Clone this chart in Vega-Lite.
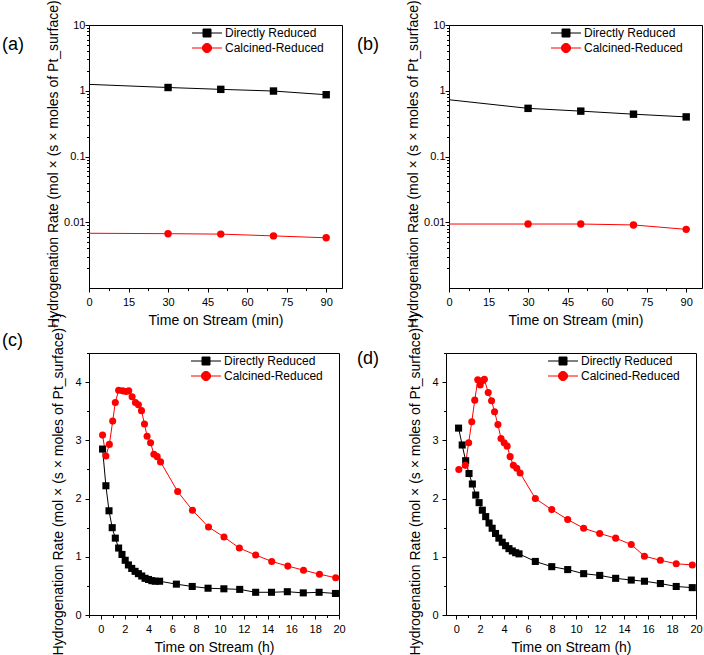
{
  "$schema": "https://vega.github.io/schema/vega-lite/v6.json",
  "padding": {"left": 1, "top": -17, "right": 0, "bottom": 0},
  "background": "white",
  "config": {
    "view": {"stroke": "black", "strokeWidth": 1},
    "font": "Liberation Sans",
    "axis": {
      "grid": false,
      "domainColor": "black",
      "domainWidth": 1,
      "tickColor": "black",
      "tickWidth": 1,
      "labelColor": "black",
      "titleColor": "black",
      "labelFont": "Liberation Sans",
      "titleFont": "Liberation Sans",
      "labelFontSize": 11,
      "titleFontSize": 14,
      "titleFontWeight": "normal",
      "labelOverlap": false,
      "labelFlush": false
    },
    "axisX": {"labelPadding": 4, "titlePadding": 6},
    "title": {"font": "Liberation Sans", "fontSize": 18, "fontWeight": "normal", "color": "black", "anchor": "start", "frame": "group", "offset": 0, "baseline": "middle"}
  },
  "datasets": {
    "a": [
      {"series": "Directly Reduced", "t": 0, "rate": 1.25},
      {"series": "Directly Reduced", "t": 30, "rate": 1.12},
      {"series": "Directly Reduced", "t": 50, "rate": 1.05},
      {"series": "Directly Reduced", "t": 70, "rate": 0.99},
      {"series": "Directly Reduced", "t": 90, "rate": 0.87},
      {"series": "Calcined-Reduced", "t": 0, "rate": 0.0068},
      {"series": "Calcined-Reduced", "t": 30, "rate": 0.0067},
      {"series": "Calcined-Reduced", "t": 50, "rate": 0.0066},
      {"series": "Calcined-Reduced", "t": 70, "rate": 0.0062},
      {"series": "Calcined-Reduced", "t": 90, "rate": 0.0058}
    ],
    "b": [
      {"series": "Directly Reduced", "t": 0, "rate": 0.73},
      {"series": "Directly Reduced", "t": 30, "rate": 0.54},
      {"series": "Directly Reduced", "t": 50, "rate": 0.49},
      {"series": "Directly Reduced", "t": 70, "rate": 0.44},
      {"series": "Directly Reduced", "t": 90, "rate": 0.40},
      {"series": "Calcined-Reduced", "t": 0, "rate": 0.0094},
      {"series": "Calcined-Reduced", "t": 30, "rate": 0.0094},
      {"series": "Calcined-Reduced", "t": 50, "rate": 0.0094},
      {"series": "Calcined-Reduced", "t": 70, "rate": 0.0091},
      {"series": "Calcined-Reduced", "t": 90, "rate": 0.0078}
    ],
    "c": [
      {"series": "Directly Reduced", "t": 0.14, "rate": 2.85},
      {"series": "Directly Reduced", "t": 0.42, "rate": 2.22},
      {"series": "Directly Reduced", "t": 0.68, "rate": 1.79},
      {"series": "Directly Reduced", "t": 0.95, "rate": 1.5},
      {"series": "Directly Reduced", "t": 1.21, "rate": 1.32},
      {"series": "Directly Reduced", "t": 1.49, "rate": 1.15},
      {"series": "Directly Reduced", "t": 1.77, "rate": 1.04},
      {"series": "Directly Reduced", "t": 2.04, "rate": 0.94},
      {"series": "Directly Reduced", "t": 2.31, "rate": 0.86},
      {"series": "Directly Reduced", "t": 2.59, "rate": 0.8},
      {"series": "Directly Reduced", "t": 2.87, "rate": 0.75},
      {"series": "Directly Reduced", "t": 3.15, "rate": 0.71},
      {"series": "Directly Reduced", "t": 3.43, "rate": 0.67},
      {"series": "Directly Reduced", "t": 3.71, "rate": 0.63},
      {"series": "Directly Reduced", "t": 4.0, "rate": 0.61},
      {"series": "Directly Reduced", "t": 4.28, "rate": 0.59},
      {"series": "Directly Reduced", "t": 4.56, "rate": 0.58},
      {"series": "Directly Reduced", "t": 4.93, "rate": 0.58},
      {"series": "Directly Reduced", "t": 6.34, "rate": 0.53},
      {"series": "Directly Reduced", "t": 7.67, "rate": 0.49},
      {"series": "Directly Reduced", "t": 9.0, "rate": 0.46},
      {"series": "Directly Reduced", "t": 10.33, "rate": 0.45},
      {"series": "Directly Reduced", "t": 11.66, "rate": 0.44},
      {"series": "Directly Reduced", "t": 13.0, "rate": 0.39},
      {"series": "Directly Reduced", "t": 14.33, "rate": 0.39},
      {"series": "Directly Reduced", "t": 15.66, "rate": 0.4},
      {"series": "Directly Reduced", "t": 17.0, "rate": 0.38},
      {"series": "Directly Reduced", "t": 18.33, "rate": 0.39},
      {"series": "Directly Reduced", "t": 19.7, "rate": 0.37},
      {"series": "Calcined-Reduced", "t": 0.14, "rate": 3.09},
      {"series": "Calcined-Reduced", "t": 0.42, "rate": 2.73},
      {"series": "Calcined-Reduced", "t": 0.71, "rate": 2.93},
      {"series": "Calcined-Reduced", "t": 0.99, "rate": 3.33},
      {"series": "Calcined-Reduced", "t": 1.21, "rate": 3.65},
      {"series": "Calcined-Reduced", "t": 1.49, "rate": 3.86},
      {"series": "Calcined-Reduced", "t": 1.83, "rate": 3.85},
      {"series": "Calcined-Reduced", "t": 2.11, "rate": 3.84},
      {"series": "Calcined-Reduced", "t": 2.34, "rate": 3.85},
      {"series": "Calcined-Reduced", "t": 2.62, "rate": 3.75},
      {"series": "Calcined-Reduced", "t": 2.9, "rate": 3.65},
      {"series": "Calcined-Reduced", "t": 3.15, "rate": 3.61},
      {"series": "Calcined-Reduced", "t": 3.41, "rate": 3.51},
      {"series": "Calcined-Reduced", "t": 3.66, "rate": 3.28},
      {"series": "Calcined-Reduced", "t": 3.88, "rate": 3.07},
      {"series": "Calcined-Reduced", "t": 4.17, "rate": 2.96},
      {"series": "Calcined-Reduced", "t": 4.45, "rate": 2.76},
      {"series": "Calcined-Reduced", "t": 4.73, "rate": 2.72},
      {"series": "Calcined-Reduced", "t": 5.01, "rate": 2.63},
      {"series": "Calcined-Reduced", "t": 6.45, "rate": 2.12},
      {"series": "Calcined-Reduced", "t": 7.69, "rate": 1.8},
      {"series": "Calcined-Reduced", "t": 9.04, "rate": 1.51},
      {"series": "Calcined-Reduced", "t": 10.34, "rate": 1.34},
      {"series": "Calcined-Reduced", "t": 11.63, "rate": 1.15},
      {"series": "Calcined-Reduced", "t": 13.0, "rate": 1.03},
      {"series": "Calcined-Reduced", "t": 14.35, "rate": 0.92},
      {"series": "Calcined-Reduced", "t": 15.7, "rate": 0.84},
      {"series": "Calcined-Reduced", "t": 17.02, "rate": 0.77},
      {"series": "Calcined-Reduced", "t": 18.36, "rate": 0.7},
      {"series": "Calcined-Reduced", "t": 19.72, "rate": 0.64}
    ],
    "d": [
      {"series": "Directly Reduced", "t": 0.2, "rate": 3.21},
      {"series": "Directly Reduced", "t": 0.5, "rate": 2.92},
      {"series": "Directly Reduced", "t": 0.79, "rate": 2.65},
      {"series": "Directly Reduced", "t": 1.07, "rate": 2.43},
      {"series": "Directly Reduced", "t": 1.35, "rate": 2.25},
      {"series": "Directly Reduced", "t": 1.63, "rate": 2.06},
      {"series": "Directly Reduced", "t": 1.91, "rate": 1.93},
      {"series": "Directly Reduced", "t": 2.18, "rate": 1.8},
      {"series": "Directly Reduced", "t": 2.46, "rate": 1.69},
      {"series": "Directly Reduced", "t": 2.74, "rate": 1.58},
      {"series": "Directly Reduced", "t": 3.0, "rate": 1.49},
      {"series": "Directly Reduced", "t": 3.28, "rate": 1.4},
      {"series": "Directly Reduced", "t": 3.56, "rate": 1.32},
      {"series": "Directly Reduced", "t": 3.84, "rate": 1.25},
      {"series": "Directly Reduced", "t": 4.12, "rate": 1.19},
      {"series": "Directly Reduced", "t": 4.4, "rate": 1.14},
      {"series": "Directly Reduced", "t": 4.68, "rate": 1.1},
      {"series": "Directly Reduced", "t": 4.96, "rate": 1.07},
      {"series": "Directly Reduced", "t": 5.24, "rate": 1.05},
      {"series": "Directly Reduced", "t": 6.6, "rate": 0.92},
      {"series": "Directly Reduced", "t": 7.97, "rate": 0.83},
      {"series": "Directly Reduced", "t": 9.3, "rate": 0.78},
      {"series": "Directly Reduced", "t": 10.63, "rate": 0.71},
      {"series": "Directly Reduced", "t": 11.97, "rate": 0.68},
      {"series": "Directly Reduced", "t": 13.3, "rate": 0.63},
      {"series": "Directly Reduced", "t": 14.6, "rate": 0.6},
      {"series": "Directly Reduced", "t": 15.7, "rate": 0.58},
      {"series": "Directly Reduced", "t": 17.03, "rate": 0.54},
      {"series": "Directly Reduced", "t": 18.35, "rate": 0.49},
      {"series": "Directly Reduced", "t": 19.69, "rate": 0.47},
      {"series": "Calcined-Reduced", "t": 0.22, "rate": 2.5},
      {"series": "Calcined-Reduced", "t": 0.76, "rate": 2.57},
      {"series": "Calcined-Reduced", "t": 1.04, "rate": 2.96},
      {"series": "Calcined-Reduced", "t": 1.3, "rate": 3.32},
      {"series": "Calcined-Reduced", "t": 1.55, "rate": 3.69},
      {"series": "Calcined-Reduced", "t": 1.8, "rate": 4.04},
      {"series": "Calcined-Reduced", "t": 2.0, "rate": 3.95},
      {"series": "Calcined-Reduced", "t": 2.15, "rate": 4.02},
      {"series": "Calcined-Reduced", "t": 2.35, "rate": 4.05},
      {"series": "Calcined-Reduced", "t": 2.67, "rate": 3.82},
      {"series": "Calcined-Reduced", "t": 2.95, "rate": 3.68},
      {"series": "Calcined-Reduced", "t": 3.2, "rate": 3.49},
      {"series": "Calcined-Reduced", "t": 3.48, "rate": 3.27},
      {"series": "Calcined-Reduced", "t": 3.74, "rate": 3.03},
      {"series": "Calcined-Reduced", "t": 4.0, "rate": 2.96},
      {"series": "Calcined-Reduced", "t": 4.25, "rate": 2.9},
      {"series": "Calcined-Reduced", "t": 4.5, "rate": 2.72},
      {"series": "Calcined-Reduced", "t": 4.77, "rate": 2.57},
      {"series": "Calcined-Reduced", "t": 5.05, "rate": 2.52},
      {"series": "Calcined-Reduced", "t": 5.33, "rate": 2.44},
      {"series": "Calcined-Reduced", "t": 6.6, "rate": 2.0},
      {"series": "Calcined-Reduced", "t": 7.97, "rate": 1.81},
      {"series": "Calcined-Reduced", "t": 9.3, "rate": 1.64},
      {"series": "Calcined-Reduced", "t": 10.63, "rate": 1.49},
      {"series": "Calcined-Reduced", "t": 11.97, "rate": 1.4},
      {"series": "Calcined-Reduced", "t": 13.3, "rate": 1.32},
      {"series": "Calcined-Reduced", "t": 14.6, "rate": 1.21},
      {"series": "Calcined-Reduced", "t": 15.7, "rate": 1.01},
      {"series": "Calcined-Reduced", "t": 17.03, "rate": 0.94},
      {"series": "Calcined-Reduced", "t": 18.35, "rate": 0.88},
      {"series": "Calcined-Reduced", "t": 19.69, "rate": 0.86}
    ]
  },
  "resolve": {"scale": {"color": "independent", "shape": "independent"}},
  "columns": 2,
  "align": "none",
  "spacing": {"row": -20, "column": 10},
  "concat": [
    {
      "width": 253, "height": 263,
      "data": {"name": "a"},
      "title": {"text": "(a)", "dx": -87, "dy": 74},
      "encoding": {
        "x": {"field": "t", "type": "quantitative", "scale": {"domain": [0, 96], "nice": false, "zero": false},
          "axis": {"title": "Time on Stream (min)", "values": [0, 7.5, 15, 22.5, 30, 37.5, 45, 52.5, 60, 67.5, 75, 82.5, 90], "labelExpr": "datum.value % 15 === 0 ? format(datum.value, '~g') : ''", "tickSize": {"condition": {"test": "datum.value % 15 !== 0", "value": 2.5}, "value": 4}}},
        "y": {"field": "rate", "type": "quantitative", "scale": {"type": "log", "domain": [0.001, 10], "nice": false},
          "axis": {"title": "Hydrogenation Rate  (mol × (s × moles of Pt_surface)⁻¹)", "titlePadding": 3, "labelPadding": 0, "values": [0.002, 0.003, 0.004, 0.005, 0.006, 0.007, 0.008, 0.009, 0.01, 0.02, 0.03, 0.04, 0.05, 0.06, 0.07, 0.08, 0.09, 0.1, 0.2, 0.3, 0.4, 0.5, 0.6, 0.7, 0.8, 0.9, 1, 2, 3, 4, 5, 6, 7, 8, 9, 10], "labelExpr": "indexof([0.01, 0.1, 1, 10], datum.value) >= 0 ? format(datum.value, '~g') : ''", "tickSize": {"condition": {"test": "indexof([0.01, 0.1, 1, 10], datum.value) < 0", "value": 2.5}, "value": 4}}},
        "color": {"field": "series", "type": "nominal", "scale": {"domain": ["Directly Reduced", "Calcined-Reduced"], "range": ["#000000", "#ff0000"]},
          "legend": {"orient": "none", "legendX": 112, "legendY": 2, "title": null, "padding": 0, "labelFont": "Liberation Sans", "labelFontSize": 12, "labelColor": "black", "labelOffset": 12, "rowPadding": 2, "symbolSize": 64, "symbolStrokeWidth": 1,
            "encode": {"symbols": {"update": {
              "shape": {"signal": "datum.value === 'Directly Reduced' ? 'M-3.75,0H3.75M-1,-1H1V1H-1Z' : 'M-3.75,0H3.75M1.15,0A1.15,1.15,0,1,1,-1.15,0A1.15,1.15,0,1,1,1.15,0Z'"},
              "stroke": {"signal": "datum.value === 'Directly Reduced' ? '#000000' : '#ff0000'"},
              "fill": {"signal": "datum.value === 'Directly Reduced' ? '#000000' : '#ff0000'"},
              "strokeWidth": {"value": 1}}}}}}
      },
      "layer": [
        {"mark": {"type": "line", "strokeWidth": 1}},
        {"transform": [{"filter": "datum.t > 0"}], "mark": {"type": "point", "filled": true, "size": 55, "opacity": 1},
          "encoding": {"shape": {"field": "series", "type": "nominal", "scale": {"domain": ["Calcined-Reduced", "Directly Reduced"], "range": ["circle", "square"]}, "legend": null}}}
      ]
    },
    {
      "width": 253, "height": 263,
      "data": {"name": "b"},
      "title": {"text": "(b)", "dx": -92, "dy": 74},
      "encoding": {
        "x": {"field": "t", "type": "quantitative", "scale": {"domain": [0, 96], "nice": false, "zero": false},
          "axis": {"title": "Time on Stream (min)", "values": [0, 7.5, 15, 22.5, 30, 37.5, 45, 52.5, 60, 67.5, 75, 82.5, 90], "labelExpr": "datum.value % 15 === 0 ? format(datum.value, '~g') : ''", "tickSize": {"condition": {"test": "datum.value % 15 !== 0", "value": 2.5}, "value": 4}}},
        "y": {"field": "rate", "type": "quantitative", "scale": {"type": "log", "domain": [0.001, 10], "nice": false},
          "axis": {"title": "Hydrogenation Rate  (mol × (s × moles of Pt_surface)⁻¹)", "titlePadding": 3, "labelPadding": 0, "values": [0.002, 0.003, 0.004, 0.005, 0.006, 0.007, 0.008, 0.009, 0.01, 0.02, 0.03, 0.04, 0.05, 0.06, 0.07, 0.08, 0.09, 0.1, 0.2, 0.3, 0.4, 0.5, 0.6, 0.7, 0.8, 0.9, 1, 2, 3, 4, 5, 6, 7, 8, 9, 10], "labelExpr": "indexof([0.01, 0.1, 1, 10], datum.value) >= 0 ? format(datum.value, '~g') : ''", "tickSize": {"condition": {"test": "indexof([0.01, 0.1, 1, 10], datum.value) < 0", "value": 2.5}, "value": 4}}},
        "color": {"field": "series", "type": "nominal", "scale": {"domain": ["Directly Reduced", "Calcined-Reduced"], "range": ["#000000", "#ff0000"]},
          "legend": {"orient": "none", "legendX": 111, "legendY": 2, "title": null, "padding": 0, "labelFont": "Liberation Sans", "labelFontSize": 12, "labelColor": "black", "labelOffset": 12, "rowPadding": 2, "symbolSize": 64, "symbolStrokeWidth": 1,
            "encode": {"symbols": {"update": {
              "shape": {"signal": "datum.value === 'Directly Reduced' ? 'M-3.75,0H3.75M-1,-1H1V1H-1Z' : 'M-3.75,0H3.75M1.15,0A1.15,1.15,0,1,1,-1.15,0A1.15,1.15,0,1,1,1.15,0Z'"},
              "stroke": {"signal": "datum.value === 'Directly Reduced' ? '#000000' : '#ff0000'"},
              "fill": {"signal": "datum.value === 'Directly Reduced' ? '#000000' : '#ff0000'"},
              "strokeWidth": {"value": 1}}}}}}
      },
      "layer": [
        {"mark": {"type": "line", "strokeWidth": 1}},
        {"transform": [{"filter": "datum.t > 0"}], "mark": {"type": "point", "filled": true, "size": 55, "opacity": 1},
          "encoding": {"shape": {"field": "series", "type": "nominal", "scale": {"domain": ["Calcined-Reduced", "Directly Reduced"], "range": ["circle", "square"]}, "legend": null}}}
      ]
    },
    {
      "width": 250, "height": 262,
      "data": {"name": "c"},
      "title": {"text": "(c)", "dx": -87, "dy": 43},
      "encoding": {
        "x": {"field": "t", "type": "quantitative", "scale": {"domain": [-1, 20], "nice": false, "zero": false},
          "axis": {"title": "Time on Stream (h)", "values": [-1, 0, 1, 2, 3, 4, 5, 6, 7, 8, 9, 10, 11, 12, 13, 14, 15, 16, 17, 18, 19, 20], "labelExpr": "datum.value >= 0 && datum.value % 2 === 0 ? format(datum.value, '~g') : ''", "tickSize": {"condition": {"test": "datum.value % 2 !== 0", "value": 2.5}, "value": 4}}},
        "y": {"field": "rate", "type": "quantitative", "scale": {"domain": [0, 4.5], "nice": false, "zero": false},
          "axis": {"title": "Hydrogenation Rate  (mol × (s × moles of Pt_surface)⁻¹)", "titlePadding": 9, "labelPadding": 4, "values": [0, 0.5, 1, 1.5, 2, 2.5, 3, 3.5, 4, 4.5], "labelExpr": "datum.value % 1 === 0 ? format(datum.value, '~g') : ''", "tickSize": {"condition": {"test": "datum.value % 1 !== 0", "value": 2.5}, "value": 4}}},
        "color": {"field": "series", "type": "nominal", "scale": {"domain": ["Directly Reduced", "Calcined-Reduced"], "range": ["#000000", "#ff0000"]},
          "legend": {"orient": "none", "legendX": 111, "legendY": 2, "title": null, "padding": 0, "labelFont": "Liberation Sans", "labelFontSize": 12, "labelColor": "black", "labelOffset": 12, "rowPadding": 2, "symbolSize": 64, "symbolStrokeWidth": 1,
            "encode": {"symbols": {"update": {
              "shape": {"signal": "datum.value === 'Directly Reduced' ? 'M-3.75,0H3.75M-1,-1H1V1H-1Z' : 'M-3.75,0H3.75M1.15,0A1.15,1.15,0,1,1,-1.15,0A1.15,1.15,0,1,1,1.15,0Z'"},
              "stroke": {"signal": "datum.value === 'Directly Reduced' ? '#000000' : '#ff0000'"},
              "fill": {"signal": "datum.value === 'Directly Reduced' ? '#000000' : '#ff0000'"},
              "strokeWidth": {"value": 1}}}}}}
      },
      "layer": [
        {"mark": {"type": "line", "strokeWidth": 1}},
        {"mark": {"type": "point", "filled": true, "size": 50, "opacity": 1},
          "encoding": {"shape": {"field": "series", "type": "nominal", "scale": {"domain": ["Calcined-Reduced", "Directly Reduced"], "range": ["circle", "square"]}, "legend": null}}}
      ]
    },
    {
      "width": 250, "height": 262,
      "data": {"name": "d"},
      "title": {"text": "(d)", "dx": -89, "dy": 61},
      "encoding": {
        "x": {"field": "t", "type": "quantitative", "scale": {"domain": [-0.85, 20], "nice": false, "zero": false},
          "axis": {"title": "Time on Stream (h)", "values": [0, 1, 2, 3, 4, 5, 6, 7, 8, 9, 10, 11, 12, 13, 14, 15, 16, 17, 18, 19, 20], "labelExpr": "datum.value % 2 === 0 ? format(datum.value, '~g') : ''", "tickSize": {"condition": {"test": "datum.value % 2 !== 0", "value": 2.5}, "value": 4}}},
        "y": {"field": "rate", "type": "quantitative", "scale": {"domain": [0, 4.5], "nice": false, "zero": false},
          "axis": {"title": "Hydrogenation Rate  (mol × (s × moles of Pt_surface)⁻¹)", "titlePadding": 9, "labelPadding": 4, "values": [0, 0.5, 1, 1.5, 2, 2.5, 3, 3.5, 4, 4.5], "labelExpr": "datum.value % 1 === 0 ? format(datum.value, '~g') : ''", "tickSize": {"condition": {"test": "datum.value % 1 !== 0", "value": 2.5}, "value": 4}}},
        "color": {"field": "series", "type": "nominal", "scale": {"domain": ["Directly Reduced", "Calcined-Reduced"], "range": ["#000000", "#ff0000"]},
          "legend": {"orient": "none", "legendX": 111, "legendY": 2, "title": null, "padding": 0, "labelFont": "Liberation Sans", "labelFontSize": 12, "labelColor": "black", "labelOffset": 12, "rowPadding": 2, "symbolSize": 64, "symbolStrokeWidth": 1,
            "encode": {"symbols": {"update": {
              "shape": {"signal": "datum.value === 'Directly Reduced' ? 'M-3.75,0H3.75M-1,-1H1V1H-1Z' : 'M-3.75,0H3.75M1.15,0A1.15,1.15,0,1,1,-1.15,0A1.15,1.15,0,1,1,1.15,0Z'"},
              "stroke": {"signal": "datum.value === 'Directly Reduced' ? '#000000' : '#ff0000'"},
              "fill": {"signal": "datum.value === 'Directly Reduced' ? '#000000' : '#ff0000'"},
              "strokeWidth": {"value": 1}}}}}}
      },
      "layer": [
        {"mark": {"type": "line", "strokeWidth": 1}},
        {"mark": {"type": "point", "filled": true, "size": 50, "opacity": 1},
          "encoding": {"shape": {"field": "series", "type": "nominal", "scale": {"domain": ["Calcined-Reduced", "Directly Reduced"], "range": ["circle", "square"]}, "legend": null}}}
      ]
    }
  ]
}
